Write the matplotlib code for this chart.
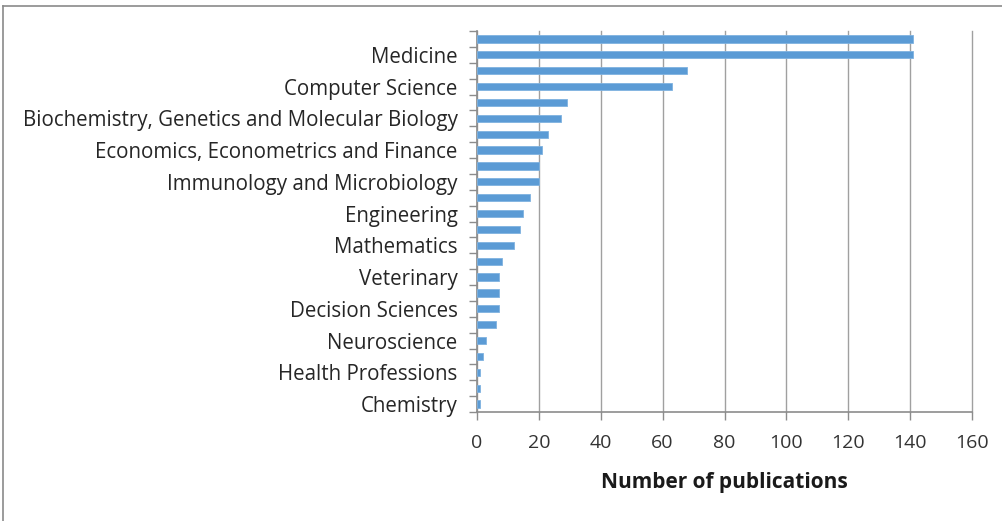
import matplotlib
matplotlib.use("Agg")
import matplotlib.pyplot as plt
from matplotlib.lines import Line2D

# Categories from bottom to top (only every other label is shown in the reference)
categories = [
    "Chemistry", "", "Health Professions", "", "Neuroscience", "",
    "Decision Sciences", "", "Veterinary", "", "Mathematics", "",
    "Engineering", "", "Immunology and Microbiology", "",
    "Economics, Econometrics and Finance", "",
    "Biochemistry, Genetics and Molecular Biology", "",
    "Computer Science", "", "Medicine", "",
]
values = [1, 1, 1, 2, 3, 6, 7, 7, 7, 8, 12, 14,
          15, 17, 20, 20, 21, 23, 27, 29, 63, 68, 141, 141]
x_ticks = [0, 20, 40, 60, 80, 100, 120, 140, 160]
x_label = "Number of publications"

W, H = 1002, 521
fig = plt.figure(figsize=(W / 100, H / 100), dpi=100)
plt.rcParams['font.family'] = ['Open Sans', 'DejaVu Sans']

# outer chart border (top and left visible)
fig.add_artist(Line2D([3 / W, 3 / W], [0, 1 - 6 / H], color="#8a8a8a", lw=1.2))
fig.add_artist(Line2D([3 / W, 1], [1 - 6 / H, 1 - 6 / H], color="#8a8a8a", lw=1.2))

left, right = 477 / W, 972 / W
top, bottom = 1 - 31 / H, 1 - 412 / H
ax = fig.add_axes([left, bottom, right - left, top - bottom])

y = list(range(len(values)))
ax.barh(y, values, height=0.45, color="#5B9BD5", edgecolor="#7fb2e0", linewidth=0.6, zorder=3)

ax.set_xlim(0, 160)
ax.set_ylim(-0.5, len(values) - 0.5)
ax.set_xticks(x_ticks)
ax.set_xticklabels([str(t) for t in x_ticks], fontsize=14, color="#333333")
ax.xaxis.grid(True, color="#a0a0a0", lw=1.0, zorder=0, clip_on=False)
ax.set_axisbelow(True)

ax.set_yticks(y)
ax.set_yticklabels(categories, fontsize=14.8, color="#262626")
ax.set_yticks([i - 0.5 for i in range(len(values) + 1)], minor=True)
ax.tick_params(axis="y", which="major", length=0, pad=14)
ax.tick_params(axis="y", which="minor", length=6, color="#8c8c8c", width=1)
ax.tick_params(axis="x", which="major", length=6, color="#8c8c8c", width=1, pad=10)

for s in ["top", "right"]:
    ax.spines[s].set_visible(False)
for s in ["left", "bottom"]:
    ax.spines[s].set_color("#8c8c8c")
    ax.spines[s].set_linewidth(1.2)

ax.set_xlabel(x_label, fontsize=15, fontweight="bold", color="#1a1a1a", labelpad=14)

fig.savefig("out.png", dpi=100)
